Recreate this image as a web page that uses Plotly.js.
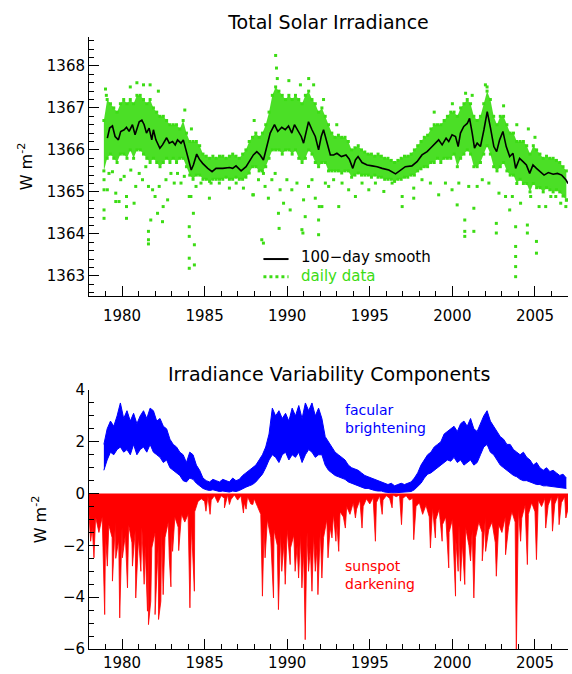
<!DOCTYPE html>
<html><head><meta charset="utf-8">
<script src="https://cdn.plot.ly/plotly-3.0.1.min.js"></script>
<style>html,body{margin:0;padding:0;background:#fff}</style>
</head><body>
<div id="chart" style="width:572px;height:674px"></div>
<script>
// ---------- Total Solar Irradiance: 100-day smooth ----------
const smoothYear = [1979.11,1979.25,1979.42,1979.58,1979.78,1979.92,1980.13,1980.27,1980.43,1980.63,1980.79,1981.04,1981.20,1981.34,1981.48,1981.64,1981.80,1981.90,1982.05,1982.29,1982.45,1982.70,1982.86,1983.06,1983.22,1983.36,1983.57,1983.71,1983.87,1984.03,1984.19,1984.32,1984.52,1984.68,1984.88,1985.19,1985.45,1985.69,1986.10,1986.50,1986.70,1986.90,1987.21,1987.51,1987.65,1987.95,1988.16,1988.36,1988.56,1988.76,1988.97,1989.23,1989.43,1989.67,1989.88,1990.08,1990.28,1990.44,1990.65,1990.85,1990.99,1991.13,1991.29,1991.50,1991.70,1991.90,1992.06,1992.20,1992.41,1992.61,1992.81,1993.01,1993.28,1993.56,1993.76,1993.97,1994.13,1994.29,1994.53,1994.84,1995.14,1995.44,1995.75,1996.15,1996.56,1996.86,1997.15,1997.55,1997.86,1998.16,1998.47,1998.67,1998.97,1999.17,1999.38,1999.62,1999.78,1999.98,2000.19,2000.35,2000.49,2000.69,2000.90,2001.04,2001.20,2001.34,2001.50,2001.70,2001.91,2002.11,2002.31,2002.51,2002.68,2002.86,2003.06,2003.26,2003.47,2003.67,2003.83,2004.07,2004.28,2004.48,2004.68,2004.88,2005.09,2005.29,2005.55,2005.81,2006.10,2006.36,2006.62,2006.87,2007.00];
const smoothVal = [1366.28,1366.52,1366.57,1366.32,1366.24,1366.44,1366.48,1366.54,1366.44,1366.60,1366.36,1366.67,1366.71,1366.60,1366.40,1366.52,1366.24,1366.48,1366.24,1366.04,1366.12,1366.29,1366.16,1366.20,1366.12,1366.24,1366.16,1366.24,1366.00,1365.76,1365.52,1365.64,1365.90,1365.78,1365.68,1365.56,1365.48,1365.56,1365.56,1365.58,1365.56,1365.62,1365.50,1365.60,1365.68,1365.88,1365.96,1365.88,1365.76,1366.08,1366.40,1366.60,1366.44,1366.54,1366.48,1366.57,1366.40,1366.60,1366.44,1366.32,1366.16,1366.44,1366.67,1366.48,1366.32,1366.00,1366.32,1366.48,1366.20,1365.88,1365.88,1365.92,1365.84,1365.88,1365.78,1365.56,1365.76,1365.84,1365.70,1365.64,1365.62,1365.60,1365.56,1365.52,1365.43,1365.52,1365.60,1365.62,1365.72,1365.88,1365.96,1366.04,1366.16,1366.24,1366.12,1366.28,1366.20,1366.36,1366.32,1366.08,1366.40,1366.56,1366.63,1366.75,1366.40,1366.04,1366.16,1366.08,1366.48,1366.91,1366.52,1366.08,1365.96,1366.24,1366.44,1366.08,1365.84,1365.92,1365.56,1365.80,1365.72,1365.64,1365.44,1365.64,1365.56,1365.48,1365.40,1365.46,1365.42,1365.44,1365.40,1365.29,1365.20];

// ---------- daily data: dense cloud (upper / lower edge), every 0.2 yr from 1978.9 ----------
const cloudStart = 1978.9;
const cloudHi = [1366.7,
 1367.2,1367.1,1367.0,1366.9,1367.1,
 1367.2,1367.1,1367.2,1367.1,1367.3,
 1367.3,1367.2,1367.1,1367.2,1367.0,
 1366.9,1366.8,1366.8,1366.7,1366.6,
 1366.6,1366.6,1366.5,1366.7,1366.4,
 1366.2,1366.2,1366.2,1366.1,1365.9,
 1365.85,1365.8,1365.85,1365.8,1365.85,
 1365.85,1365.8,1365.85,1365.9,1365.85,
 1365.8,1365.9,1366.0,1366.2,1366.3,
 1366.4,1366.3,1366.4,1366.6,1366.9,
 1367.3,1367.5,1367.4,1367.3,1367.2,
 1367.3,1367.2,1367.3,1367.2,1367.1,
 1367.3,1367.4,1367.2,1367.1,1366.9,
 1367.0,1366.8,1366.6,1366.4,1366.3,
 1366.35,1366.3,1366.3,1366.2,1366.0,
 1366.05,1366.1,1366.0,1365.95,1365.9,
 1365.9,1365.85,1365.9,1365.85,1365.8,
 1365.8,1365.75,1365.7,1365.75,1365.8,
 1365.85,1365.85,1365.9,1366.0,1366.1,
 1366.2,1366.3,1366.35,1366.5,1366.6,
 1366.6,1366.6,1366.7,1366.8,1366.9,
 1366.9,1366.8,1367.0,1367.1,1367.2,
 1367.1,1366.8,1366.7,1366.8,1367.1,
 1367.4,1367.2,1366.8,1366.6,1366.8,
 1366.8,1366.6,1366.4,1366.4,1366.2,
 1366.2,1366.2,1366.1,1365.9,1366.1,
 1366.0,1365.9,1365.8,1365.85,1365.8,
 1365.8,1365.75,1365.7,1365.6,1365.5];
const cloudLo = [1365.5,
 1365.8,1365.9,1365.8,1365.7,1365.9,
 1365.9,1365.8,1366.0,1365.8,1366.0,
 1366.0,1365.9,1365.8,1365.7,1365.8,
 1365.7,1365.6,1365.7,1365.8,1365.7,
 1365.8,1365.7,1365.8,1365.8,1365.6,
 1365.4,1365.3,1365.4,1365.4,1365.3,
 1365.3,1365.25,1365.3,1365.3,1365.3,
 1365.3,1365.35,1365.3,1365.3,1365.35,
 1365.3,1365.3,1365.35,1365.45,1365.6,
 1365.6,1365.5,1365.5,1365.6,1365.8,
 1366.0,1366.0,1366.0,1365.9,1366.0,
 1366.0,1365.9,1366.0,1365.8,1365.7,
 1365.8,1366.0,1365.9,1365.7,1365.6,
 1365.7,1365.7,1365.5,1365.5,1365.5,
 1365.5,1365.45,1365.5,1365.5,1365.35,
 1365.4,1365.45,1365.4,1365.4,1365.4,
 1365.35,1365.4,1365.35,1365.35,1365.3,
 1365.3,1365.3,1365.25,1365.3,1365.3,
 1365.35,1365.35,1365.4,1365.4,1365.5,
 1365.55,1365.6,1365.6,1365.7,1365.7,
 1365.8,1365.7,1365.8,1365.8,1365.8,
 1365.9,1365.6,1365.8,1365.9,1366.0,
 1365.9,1365.6,1365.6,1365.7,1365.9,
 1366.1,1365.9,1365.6,1365.5,1365.6,
 1365.7,1365.5,1365.4,1365.4,1365.2,
 1365.3,1365.2,1365.2,1365.0,1365.2,
 1365.1,1365.1,1365.0,1365.1,1365.05,
 1365.0,1365.05,1365.0,1364.9,1364.8];

// ---------- daily data: scattered days outside the dense cloud ----------
const dotYear = [1978.91,1978.91,1978.91,1978.91,1979.11,1979.21,1979.42,1979.62,1979.62,1979.82,1979.92,1980.13,1980.27,1980.27,1980.27,1980.53,1980.73,1980.83,1981.04,1981.24,1981.44,1981.60,1981.60,1981.60,1981.60,1981.74,1981.85,1982.00,1982.15,1982.25,1982.45,1982.49,1982.66,1982.76,1982.96,1983.16,1983.36,1983.57,1983.77,1984.07,1984.07,1984.07,1984.07,1984.07,1984.17,1984.32,1984.38,1984.38,1984.48,1984.78,1985.29,1985.39,1985.89,1986.50,1986.91,1987.35,1987.92,
 1987.95,1988.26,1988.46,1988.56,1988.56,1988.66,1988.86,1989.07,1989.27,1989.47,1989.51,1989.57,1989.78,1989.98,1990.18,1990.28,1990.59,1990.89,1990.95,1990.99,1991.09,1991.29,1991.50,1991.70,1991.90,1991.90,1991.94,1992.10,1992.31,1992.51,1992.81,1993.12,1993.32,1993.72,1994.13,1994.53,1994.94,1995.34,1995.85,1996.35,1996.96,1996.96,
 1997.66,1997.66,1998.16,1998.67,1999.17,1999.58,1999.98,2000.29,2000.39,2000.75,2000.75,2000.75,2000.99,2001.30,2001.30,2001.50,2001.81,2002.21,2002.66,2002.66,2002.82,2003.22,2003.47,2003.63,2003.83,2003.83,2003.83,2003.83,2003.83,2004.13,2004.54,2004.54,2004.74,2005.09,2005.09,2005.25,2005.65,2005.96,2006.26,2006.56,2006.87,2006.98,
 1979.00,1979.05,1980.50,1980.90,1981.30,1981.70,1982.20,1983.80,1984.20,1988.00,1989.30,1989.35,1989.40,1990.10,1990.80,1991.30,1991.60,1992.20,1993.00,1998.90,2000.00,2000.80,2001.20,2002.00,2002.10,2003.10,2003.90,2004.60,2005.00];
const dotVal = [1365.29,1365.05,1364.57,1364.37,1365.05,1365.44,1365.48,1364.97,1364.77,1364.77,1365.29,1365.37,1364.89,1364.65,1364.37,1365.52,1364.73,1365.13,1365.44,1365.29,1365.60,1365.13,1364.06,1363.86,1363.76,1364.33,1365.05,1364.89,1364.49,1365.13,1364.29,1364.65,1365.29,1364.81,1365.44,1365.21,1365.44,1365.21,1365.37,1364.89,1364.17,1363.94,1363.42,1363.18,1364.89,1364.49,1363.74,1363.26,1365.13,1365.21,1364.85,1365.21,1365.21,1365.09,1365.21,1365.09,1364.93,
 1364.93,1365.29,1363.86,1363.78,1365.44,1365.13,1364.85,1365.29,1365.44,1364.49,1364.13,1365.05,1364.73,1365.29,1364.57,1365.05,1365.21,1364.10,1364.02,1364.81,1364.41,1365.13,1365.29,1364.85,1364.33,1363.98,1364.65,1364.65,1365.21,1365.13,1365.29,1364.65,1365.21,1365.05,1364.89,1365.21,1365.05,1365.21,1365.01,1365.21,1364.89,1364.65,
 1365.09,1364.85,1365.29,1365.21,1364.93,1365.21,1365.05,1364.69,1365.21,1364.33,1364.06,1363.94,1365.13,1364.61,1364.06,1365.13,1365.29,1365.21,1364.25,1364.02,1364.97,1364.89,1364.57,1364.89,1364.17,1363.70,1363.46,1363.22,1362.98,1364.73,1364.21,1364.02,1364.89,1363.82,1363.54,1364.65,1364.65,1364.89,1364.89,1364.73,1364.65,1364.81,
 1367.45,1367.30,1367.50,1367.60,1367.55,1367.55,1367.40,1366.95,1366.50,1366.70,1368.25,1367.95,1367.70,1367.65,1367.55,1367.70,1367.55,1367.20,1366.60,1366.90,1367.10,1367.35,1367.30,1367.55,1367.50,1367.05,1366.60,1366.50,1366.30];

// ---------- facular brightening (upper / lower envelope), every 0.2 yr from 1978.9 ----------
const facStart = 1978.9;
const facHi = [1.9,
 2.5,2.8,2.6,3.0,3.5, 2.9,3.2,2.8,3.1,2.7, 3.0,3.2,2.9,3.3,3.2, 2.8,2.9,2.6,2.5,2.1,
 1.9,1.8,1.6,1.5,1.2, 1.6,1.5,1.1,0.9,0.6, 0.5,0.45,0.55,0.5,0.45, 0.55,0.5,0.45,0.6,0.5,
 0.55,0.7,0.8,0.9,1.0, 1.1,1.3,1.5,1.8,2.3, 3.3,3.0,3.2,2.9,3.1, 2.8,3.3,3.0,3.4,2.9,
 3.5,3.2,3.5,3.0,3.3, 2.9,2.2,2.0,1.8,1.6, 1.5,1.4,1.3,1.1,1.0, 0.95,0.9,0.8,0.7,0.65,
 0.6,0.55,0.5,0.45,0.4, 0.35,0.4,0.3,0.35,0.4, 0.35,0.4,0.45,0.6,0.8, 1.1,1.3,1.5,1.6,1.8,
 1.9,2.0,2.3,2.4,2.5, 2.6,2.4,2.7,2.8,2.6, 2.9,2.5,2.4,2.7,3.0, 3.2,2.8,2.6,2.4,2.2,
 2.1,1.9,1.9,1.7,1.6, 1.5,1.6,1.4,1.3,1.1, 1.2,1.0,0.9,1.0,0.85, 0.9,0.8,0.7,0.75,0.6];
const facLo = [0.9,
 1.3,1.6,1.5,1.7,1.8, 1.6,1.7,1.5,1.9,1.5, 1.7,1.8,1.6,1.9,1.6, 1.5,1.4,1.2,1.3,1.0,
 0.9,0.8,0.7,0.5,0.45, 0.6,0.55,0.4,0.3,0.2, 0.15,0.12,0.15,0.1,0.08, 0.1,0.08,0.06,0.1,0.08,
 0.12,0.2,0.25,0.3,0.35, 0.45,0.6,0.75,1.0,1.3, 1.5,1.4,1.2,1.5,1.6, 1.3,1.5,1.4,1.6,1.2,
 1.5,1.7,1.6,1.4,1.5, 1.5,1.1,0.9,0.8,0.7, 0.65,0.6,0.55,0.45,0.4, 0.35,0.3,0.25,0.2,0.2,
 0.15,0.12,0.1,0.1,0.06, 0.04,0.03,0.03,0.04,0.05, 0.05,0.06,0.08,0.15,0.28, 0.4,0.6,0.75,0.8,0.9,
 1.0,1.1,1.2,1.3,1.25, 1.4,1.2,1.3,1.1,1.2, 1.3,1.1,1.2,1.5,1.8, 1.9,1.6,1.5,1.3,1.1,
 1.0,0.9,0.8,0.7,0.65, 0.55,0.5,0.5,0.45,0.4, 0.35,0.35,0.3,0.3,0.28, 0.28,0.25,0.25,0.22,0.2];

// ---------- sunspot darkening: dense lower edge every 0.2 yr from 1978.0, plus deep single-day dips ----------
const spotStart = 1978.0;
const spotDense = [
 -0.8,-1.3,-0.9,-1.5,-0.9, -1.6,-1.2,-1.7,-1.1,-1.8, -1.3,-1.6,-1.2,-1.9,-1.4, -1.7,-1.3,-2.0,-1.5,-2.1,
 -1.5,-1.9,-1.4,-1.7,-1.1, -1.4,-0.9,-1.3,-0.8,-1.1, -0.8,-1.2,-0.7,-0.3,-0.2, -0.3,-0.1,-0.25,-0.08,-0.35,
 -0.08,-0.18,-0.05,-0.22,-0.05, -0.25,-0.08,-0.35,-0.12,-0.4, -0.2,-0.5,-0.8,-1.3,-1.0, -1.7,-1.4,-2.0,-1.5,-1.9,
 -1.4,-2.1,-1.6,-2.0,-1.6, -2.2,-1.5,-2.1,-1.6,-2.1, -1.4,-1.7,-1.0,-1.3,-0.8, -1.1,-0.7,-0.9,-0.5,-0.8,
 -0.35,-0.6,-0.25,-0.5,-0.2, -0.4,-0.15,-0.35,-0.08,-0.25, -0.08,-0.18,-0.05,-0.12,-0.05, -0.18,-0.08,-0.25,-0.18,-0.5,
 -0.35,-0.8,-0.45,-0.9,-0.55, -1.0,-0.6,-1.2,-0.9,-1.5, -1.0,-1.7,-1.2,-1.9,-1.3, -2.0,-1.4,-1.7,-1.1,-1.5,
 -0.9,-1.4,-1.1,-1.9,-1.2, -1.5,-0.9,-1.3,-0.7,-1.1, -0.6,-0.95,-0.45,-0.8,-0.35, -0.7,-0.25,-0.5,-0.18,-0.45,
 -0.12,-0.4,-0.08,-0.35,-0.12, -0.6];
const spikeYear = [1978.10,1978.30,1978.95,1979.11,1979.42,1979.62,1979.86,1980.02,1980.33,1980.63,1980.83,1981.14,1981.34,1981.54,1981.60,1981.74,1982.00,1982.21,1982.35,1982.49,1982.86,1982.96,1983.06,1983.43,1984.07,1984.11,1984.38,1985.08,1985.33,1986.20,1986.50,1987.35,1987.51,1987.92,
 1988.50,1988.66,1989.17,1989.47,1989.67,1989.88,1990.18,1990.48,1990.69,1990.89,1991.09,1991.29,1991.50,1991.70,1991.86,1992.10,1992.47,1992.71,1992.95,1993.12,1993.52,1994.13,1994.53,1995.34,1995.75,1996.35,1996.92,
 1997.66,1998.67,1998.97,1999.38,1999.78,2000.19,2000.35,2000.49,2000.75,2001.10,2001.30,2001.81,2002.01,2002.66,2003.22,2003.87,2004.13,2004.54,2005.09,2005.65,2006.06,2006.46,2006.87];
const spikeVal = [-1.84,-2.48,-4.67,-2.80,-3.38,-2.50,-4.80,-2.48,-3.64,-2.80,-4.03,-3.00,-3.50,-4.54,-5.06,-4.16,-4.67,-4.86,-4.16,-3.90,-2.48,-3.60,-2.23,-2.20,-3.64,-4.41,-3.77,-0.68,-0.80,-0.55,-0.42,-0.75,-0.60,-0.42,
 -3.96,-2.48,-4.03,-4.48,-3.00,-3.50,-2.74,-3.00,-3.26,-3.64,-5.64,-3.00,-3.77,-3.00,-3.90,-3.26,-2.48,-1.71,-1.84,-2.23,-1.33,-0.94,-1.33,-1.84,-0.80,-0.55,-1.20,
 -1.78,-2.10,-1.71,-1.84,-2.87,-3.96,-3.00,-3.38,-3.51,-2.60,-4.03,-2.60,-2.23,-3.19,-2.36,-6.20,-1.84,-2.74,-2.55,-1.33,-1.45,-1.20,-0.94];

// ---------- axis ticks ----------
const xTickVals = [1980,1985,1990,1995,2000,2005];
const topTickVals = [1363,1364,1365,1366,1367,1368];
const botTickVals = [-6,-4,-2,0,2,4];

// ---------- build ----------
const GREEN = 'rgb(60,220,20)';
const FONT = 'DejaVu Sans, sans-serif';
function years(start, n){ const a=[]; for(let i=0;i<n;i++) a.push(Math.round((start+0.2*i)*100)/100); return a; }
const cloudYears = years(cloudStart, cloudHi.length);
const facYears = years(facStart, facHi.length);
const spotYears = years(spotStart, spotDense.length);
const redPts = spotYears.map((y,i)=>[y, spotDense[i]])
  .concat(spikeYear.map((y,i)=>[y, spikeVal[i]]))
  .sort((a,b)=>a[0]-b[0]);

const data = [
  {x:cloudYears, y:cloudLo, mode:'lines+markers', line:{width:0, color:GREEN}, marker:{size:3, color:GREEN, symbol:'square'}, xaxis:'x', yaxis:'y', hoverinfo:'skip', showlegend:false},
  {x:cloudYears, y:cloudHi, mode:'lines+markers', fill:'tonexty', fillcolor:'rgba(60,220,20,0.92)', line:{width:0, color:GREEN}, marker:{size:3, color:GREEN, symbol:'square'}, xaxis:'x', yaxis:'y', hoverinfo:'skip', showlegend:false},
  {x:dotYear, y:dotVal, mode:'markers', marker:{size:3, color:GREEN, symbol:'square'}, xaxis:'x', yaxis:'y', name:'daily data', showlegend:false},
  {x:smoothYear, y:smoothVal, mode:'lines', line:{color:'#000', width:1.6}, xaxis:'x', yaxis:'y', name:'100-day smooth', showlegend:false},
  {x:facYears, y:facLo, mode:'lines', line:{color:'#0000ff', width:1}, xaxis:'x2', yaxis:'y2', hoverinfo:'skip', showlegend:false},
  {x:facYears, y:facHi, mode:'lines', fill:'tonexty', fillcolor:'#0000ff', line:{color:'#0000ff', width:1}, xaxis:'x2', yaxis:'y2', name:'facular brightening', showlegend:false},
  {x:redPts.map(p=>p[0]), y:redPts.map(p=>p[1]), mode:'lines', fill:'tozeroy', fillcolor:'#ff0000', line:{color:'#ff0000', width:0.8}, xaxis:'x2', yaxis:'y2', name:'sunspot darkening', showlegend:false}
];

const xCommon = {range:[1978,2007], tickvals:xTickVals, ticktext:xTickVals.map(String), ticks:'inside', ticklen:10, tickwidth:1, tickcolor:'#000',
  minor:{ticks:'inside', ticklen:5, tickcolor:'#000', dtick:1, tick0:1978, showgrid:false},
  showline:true, linecolor:'#000', linewidth:1, showgrid:false, zeroline:false, tickfont:{size:15}, fixedrange:true};
const yCommon = {ticks:'inside', ticklen:10, tickwidth:1, tickcolor:'#000', showline:true, linecolor:'#000', linewidth:1,
  showgrid:false, zeroline:false, tickfont:{size:15}, fixedrange:true};

const layout = {
  width:572, height:674, paper_bgcolor:'#fff', plot_bgcolor:'#fff',
  margin:{l:89, r:4, t:30, b:25}, showlegend:false, hovermode:false,
  font:{family:FONT, size:15, color:'#000'},
  title:{text:'Total Solar Irradiance', font:{size:19, color:'#000'}, x:0.5, xref:'paper', xanchor:'center', y:1-22/674, yref:'container', yanchor:'middle'},
  xaxis:Object.assign({}, xCommon, {anchor:'y', domain:[0,1], ticklabelstandoff:6}),
  yaxis:Object.assign({}, yCommon, {anchor:'x', domain:[0.5703,0.9887], range:[1362.52,1368.69], tickvals:topTickVals, ticktext:topTickVals.map(String),
     minor:{ticks:'inside', ticklen:5, tickcolor:'#000', dtick:0.2, tick0:1363, showgrid:false},
     title:{text:'W m<sup>-2</sup>', font:{size:16}, standoff:10}}),
  xaxis2:Object.assign({}, xCommon, {anchor:'y2', domain:[0,1], ticklabelstandoff:0}),
  yaxis2:Object.assign({}, yCommon, {anchor:'x2', domain:[0,0.4184], range:[-6,4], tickvals:botTickVals, ticktext:botTickVals.map(v=>v<0?'\u2212'+Math.abs(v):String(v)),
     minor:{ticks:'inside', ticklen:5, tickcolor:'#000', dtick:0.5, tick0:-6, showgrid:false},
     title:{text:'W m<sup>-2</sup>', font:{size:16}, standoff:12}}),
  annotations:[
    {text:'Irradiance Variability Components', xref:'paper', yref:'paper', x:0.5, y:(649-374)/619, xanchor:'center', yanchor:'middle', showarrow:false, font:{size:19, color:'#000'}},
    {text:'100\u2212day smooth', xref:'x', yref:'y', x:1990.8, y:1363.45, xanchor:'left', yanchor:'middle', showarrow:false, borderpad:0, font:{size:15, color:'#000'}},
    {text:'daily data', xref:'x', yref:'y', x:1990.8, y:1363.0, xanchor:'left', yanchor:'middle', showarrow:false, borderpad:0, font:{size:15, color:GREEN}},
    {text:'facular<br>brightening', xref:'x2', yref:'y2', x:1993.42, y:2.88, xanchor:'left', yanchor:'middle', align:'left', showarrow:false, borderpad:0, font:{size:14, color:'#0000ff'}},
    {text:'sunspot<br>darkening', xref:'x2', yref:'y2', x:1993.42, y:-3.15, xanchor:'left', yanchor:'middle', align:'left', showarrow:false, borderpad:0, font:{size:14, color:'#ff0000'}}
  ],
  shapes:[
    {type:'line', xref:'x', yref:'y', x0:1988.56, x1:1990.08, y0:1363.40, y1:1363.40, line:{color:'#000', width:2}},
    {type:'line', xref:'x', yref:'y', x0:1988.56, x1:1990.08, y0:1362.98, y1:1362.98, line:{color:GREEN, width:3, dash:'dot'}}
  ]
};

Plotly.newPlot('chart', data, layout, {displayModeBar:false, staticPlot:true});
</script>
</body></html>
